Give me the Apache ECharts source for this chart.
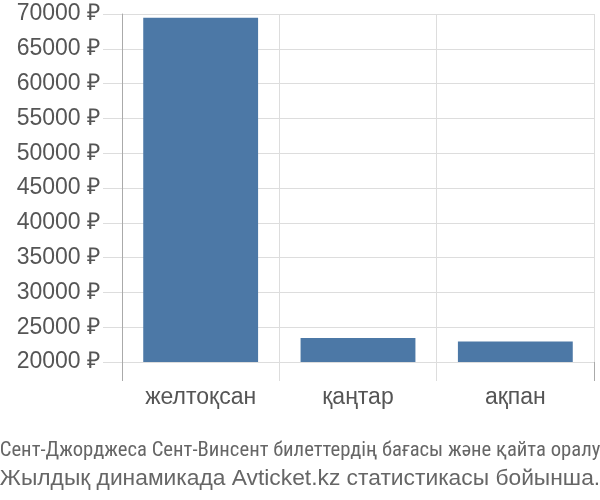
<!DOCTYPE html>
<html>
<head>
<meta charset="utf-8">
<script src="https://cdn.jsdelivr.net/npm/echarts@6/dist/echarts.min.js"></script>
<style>
  html, body { margin: 0; padding: 0; background: #fff; }
  #chart { width: 600px; height: 500px; }
</style>
</head>
<body>
<div id="chart"></div>
<script>
// айлар
var months = ['желтоқсан', 'қаңтар', 'ақпан'];
// бағалар, рубль
var prices = [69450, 23450, 22930];
// ось шкаласы
var yMin = 20000;
var yMax = 70000;
var yStep = 5000;
// тақырып
var titleLine1 = 'Сент-Джорджеса Сент-Винсент билеттердің бағасы және қайта оралу';
var titleLine2 = 'Жылдық динамикада Avticket.kz статистикасы бойынша.';

var chart = echarts.init(document.getElementById('chart'));

var option = {
    animation: false,
    textStyle: { fontFamily: 'Liberation Sans' },
    title: [{
        text: titleLine1,
        left: 'center',
        top: 435,
        textStyle: { fontSize: 20.7, fontWeight: 'normal', color: '#666', fontFamily: 'Liberation Sans Narrow, Roboto Condensed, Liberation Sans' }
    }, {
        text: titleLine2,
        left: 'center',
        top: 462,
        textStyle: { fontSize: 22.8, fontWeight: 'normal', color: '#666', fontFamily: 'Liberation Sans' }
    }],
    grid: { left: 122, right: 6, top: 14, bottom: 138 },
    xAxis: [{
        type: 'category',
        data: months,
        axisLine: { show: false },
        axisTick: { show: true, length: 19, lineStyle: { color: '#ddd' } },
        splitLine: { show: true, lineStyle: { color: '#ddd' } },
        axisLabel: { fontSize: 23, color: '#555', margin: 24 }
    }, {
        // y осінің сызығын төменге созу үшін
        type: 'category',
        data: months,
        position: 'bottom',
        axisLine: { show: false },
        axisLabel: { show: false },
        splitLine: { show: false },
        axisTick: {
            show: true,
            length: 19,
            interval: function (i) { return i === 0; },
            lineStyle: { color: '#aaa' }
        }
    }],
    yAxis: {
        type: 'value',
        min: yMin,
        max: yMax,
        interval: yStep,
        axisLine: { show: true, lineStyle: { color: '#aaa' } },
        axisTick: { show: true, length: 19, lineStyle: { color: '#ddd' } },
        splitLine: { show: true, lineStyle: { color: '#ddd' } },
        axisLabel: {
            fontSize: 23,
            color: '#555',
            margin: 22,
            formatter: function (v) { return v + ' ₽'; }
        }
    },
    series: [{
        type: 'bar',
        data: prices,
        barCategoryGap: '27%',
        itemStyle: { color: '#4c78a6' }
    }]
};

chart.setOption(option);
</script>
</body>
</html>
